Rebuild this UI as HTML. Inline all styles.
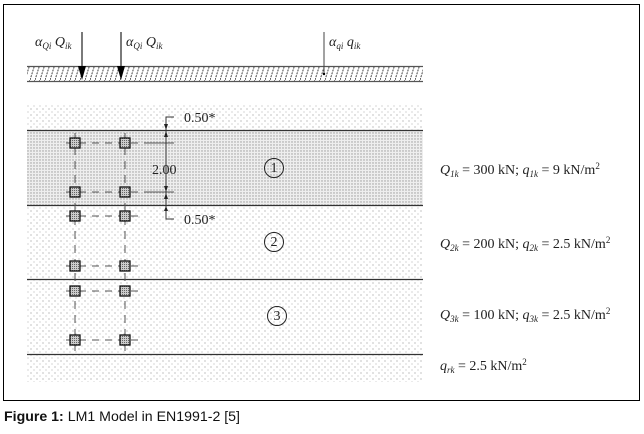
<!DOCTYPE html>
<html><head><meta charset="utf-8"><style>
html,body{margin:0;padding:0;background:#fff;width:644px;height:434px;overflow:hidden}
svg{display:block}
.t{font-family:"Liberation Serif",serif;font-size:14px;fill:#222}
.i{font-style:italic}
</style></head><body>
<svg width="644" height="434" viewBox="0 0 644 434">
<defs>
<pattern id="dots" width="6" height="6" patternUnits="userSpaceOnUse">
<rect width="6" height="6" fill="#fff"/><circle cx="1" cy="1" r="0.6" fill="#999"/><circle cx="4" cy="4" r="0.6" fill="#bbb"/>
</pattern>
<pattern id="dense" width="3" height="3" patternUnits="userSpaceOnUse">
<rect width="3" height="3" fill="#eee"/><circle cx="1" cy="1" r="0.7" fill="#999"/>
</pattern>
<pattern id="hatch" width="5" height="16" patternUnits="userSpaceOnUse">
<rect width="5" height="16" fill="#fff"/><line x1="0" y1="16" x2="5" y2="0" stroke="#444" stroke-width="1" stroke-dasharray="2,1"/>
</pattern>
<pattern id="wh" width="2" height="2" patternUnits="userSpaceOnUse"><rect width="2" height="2" fill="#ccc"/><rect width="1" height="1" fill="#666"/></pattern>
</defs>
<rect x="3.5" y="4.5" width="636" height="396" fill="#fff" stroke="#000" stroke-width="1"/>
<rect x="27" y="66" width="396" height="16" fill="url(#hatch)"/>
<line x1="27" y1="66.5" x2="423" y2="66.5" stroke="#555" stroke-width="1.2"/>
<line x1="27" y1="81.5" x2="423" y2="81.5" stroke="#555" stroke-width="1.2"/>
<line x1="82" y1="32" x2="82" y2="68" stroke="#222" stroke-width="1.2"/>
<polygon points="78,66 86,66 82,80" fill="#000"/>
<line x1="121" y1="32" x2="121" y2="68" stroke="#222" stroke-width="1.2"/>
<polygon points="117,66 125,66 121,80" fill="#000"/>
<line x1="324" y1="32" x2="324" y2="74" stroke="#444" stroke-width="1"/>
<circle cx="324" cy="74" r="1.2" fill="#000"/>
<text x="35" y="46" class="t i">α<tspan font-size="9" dy="3">Qi</tspan><tspan dy="-3"> Q</tspan><tspan font-size="9" dy="3">ik</tspan></text>
<text x="126" y="46" class="t i">α<tspan font-size="9" dy="3">Qi</tspan><tspan dy="-3"> Q</tspan><tspan font-size="9" dy="3">ik</tspan></text>
<text x="329" y="46" class="t i">α<tspan font-size="9" dy="3">qi</tspan><tspan dy="-3"> q</tspan><tspan font-size="9" dy="3">ik</tspan></text>
<rect x="27" y="105" width="396" height="277" fill="url(#dots)"/>
<rect x="27" y="130" width="396" height="75" fill="url(#dense)"/>
<g stroke="#333" stroke-width="1.3">
<line x1="27" y1="130.5" x2="423" y2="130.5"/>
<line x1="27" y1="205.5" x2="423" y2="205.5"/>
<line x1="27" y1="279.5" x2="423" y2="279.5"/>
<line x1="27" y1="354.5" x2="423" y2="354.5"/>
</g>
<g stroke="#555" stroke-width="1">
<line x1="75" y1="133" x2="75" y2="352" stroke-dasharray="8,6"/>
<line x1="125" y1="133" x2="125" y2="352" stroke-dasharray="8,6"/>
<line x1="66" y1="143" x2="140" y2="143" stroke-dasharray="7,6"/>
<line x1="66" y1="192" x2="140" y2="192" stroke-dasharray="7,6"/>
<line x1="66" y1="216" x2="140" y2="216" stroke-dasharray="7,6"/>
<line x1="66" y1="266" x2="140" y2="266" stroke-dasharray="7,6"/>
<line x1="66" y1="291" x2="140" y2="291" stroke-dasharray="7,6"/>
<line x1="66" y1="340" x2="140" y2="340" stroke-dasharray="7,6"/>
<line x1="144" y1="143" x2="174" y2="143"/>
<line x1="144" y1="192" x2="174" y2="192"/>
</g>
<g fill="url(#wh)" stroke="#111" stroke-width="1.3">
<rect x="70" y="138" width="10" height="10"/><rect x="120" y="138" width="10" height="10"/>
<rect x="70" y="187" width="10" height="10"/><rect x="120" y="187" width="10" height="10"/>
<rect x="70" y="211" width="10" height="10"/><rect x="120" y="211" width="10" height="10"/>
<rect x="70" y="261" width="10" height="10"/><rect x="120" y="261" width="10" height="10"/>
<rect x="70" y="286" width="10" height="10"/><rect x="120" y="286" width="10" height="10"/>
<rect x="70" y="335" width="10" height="10"/><rect x="120" y="335" width="10" height="10"/>
</g>
<g stroke="#333" stroke-width="1" fill="none">
<polyline points="174,117 166,117 166,219 174,219"/>
</g>
<g fill="#222">
<polygon points="164,124 168,124 166,130"/><polygon points="164,137 168,137 166,131"/>
<polygon points="164,186 168,186 166,192"/><polygon points="164,199 168,199 166,193"/>
<polygon points="164,211 168,211 166,206"/>
</g>
<text x="184" y="122" class="t" font-size="12">0.50*</text>
<text x="152" y="174" class="t" font-size="12">2.00</text>
<text x="184" y="224" class="t" font-size="12">0.50*</text>
<g fill="none" stroke="#222" stroke-width="1">
<circle cx="274" cy="168" r="9.5"/><circle cx="274" cy="242" r="9.5"/><circle cx="277" cy="316" r="9.5"/>
</g>
<text x="274" y="172" class="t" font-size="11" text-anchor="middle">1</text>
<text x="274" y="246" class="t" font-size="11" text-anchor="middle">2</text>
<text x="277" y="320" class="t" font-size="11" text-anchor="middle">3</text>
<text x="440" y="174" class="t"><tspan class="i">Q</tspan><tspan font-size="9" dy="3" class="i">1k</tspan><tspan dy="-3"> = 300 kN; </tspan><tspan class="i">q</tspan><tspan font-size="9" dy="3" class="i">1k</tspan><tspan dy="-3"> = 9 kN/m</tspan><tspan font-size="9" dy="-5">2</tspan></text>
<text x="440" y="248" class="t"><tspan class="i">Q</tspan><tspan font-size="9" dy="3" class="i">2k</tspan><tspan dy="-3"> = 200 kN; </tspan><tspan class="i">q</tspan><tspan font-size="9" dy="3" class="i">2k</tspan><tspan dy="-3"> = 2.5 kN/m</tspan><tspan font-size="9" dy="-5">2</tspan></text>
<text x="440" y="319" class="t"><tspan class="i">Q</tspan><tspan font-size="9" dy="3" class="i">3k</tspan><tspan dy="-3"> = 100 kN; </tspan><tspan class="i">q</tspan><tspan font-size="9" dy="3" class="i">3k</tspan><tspan dy="-3"> = 2.5 kN/m</tspan><tspan font-size="9" dy="-5">2</tspan></text>
<text x="440" y="370" class="t"><tspan class="i">q</tspan><tspan font-size="9" dy="3" class="i">rk</tspan><tspan dy="-3"> = 2.5 kN/m</tspan><tspan font-size="9" dy="-5">2</tspan></text>
<text x="4" y="421" font-family="Liberation Sans, sans-serif" font-size="14" fill="#111" textLength="236" lengthAdjust="spacingAndGlyphs"><tspan font-weight="bold">Figure 1:</tspan> LM1 Model in EN1991-2 [5]</text>
</svg>
</body></html>
